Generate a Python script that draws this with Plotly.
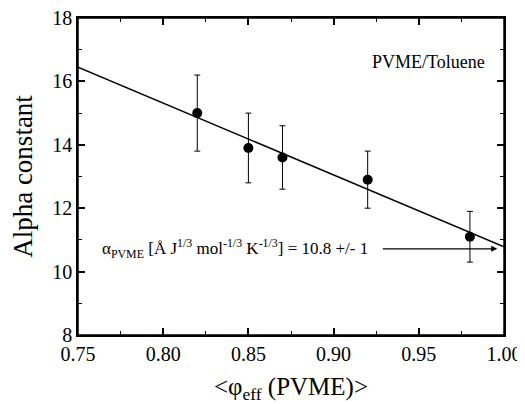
import plotly.graph_objects as go

phi_eff = [0.82, 0.85, 0.87, 0.92, 0.98]
alpha = [15.0, 13.9, 13.6, 12.9, 11.1]
err_plus = [1.2, 1.1, 1.0, 0.9, 0.8]
err_minus = [1.2, 1.1, 1.0, 0.9, 0.8]
fit_x = [0.75, 1.00]
fit_y = [16.45, 10.78]

FONT = "Times New Roman, Liberation Serif, serif"

fig = go.Figure()
fig.add_trace(go.Scatter(x=fit_x, y=fit_y, mode="lines",
                         line=dict(color="black", width=1.5), showlegend=False, hoverinfo="skip"))
fig.add_trace(go.Scatter(x=phi_eff, y=alpha, mode="markers",
                         marker=dict(color="black", size=10),
                         error_y=dict(type="data", array=err_plus, arrayminus=err_minus,
                                      color="black", thickness=1, width=3),
                         showlegend=False))

fig.add_annotation(x=0.763, y=10.72, xref="x", yref="y", xanchor="left", yanchor="middle",
                   text="α<sub>PVME</sub> [Å J<sup>1/3</sup> mol<sup>-1/3</sup> K<sup>-1/3</sup>] = 10.8 +/- 1",
                   showarrow=False, font=dict(family=FONT, size=17, color="black"))
fig.add_annotation(x=0.996, y=10.72, ax=0.928, ay=10.72, xref="x", yref="y", axref="x", ayref="y",
                   text="", showarrow=True, arrowhead=2, arrowsize=1, arrowwidth=1.2, arrowcolor="black")
fig.add_annotation(x=0.99, y=16.6, xref="x", yref="y", xanchor="right", yanchor="middle",
                   text="PVME/Toluene", showarrow=False, font=dict(family=FONT, size=18, color="black"))

# plot frame
fig.add_shape(type="rect", xref="x domain", yref="y domain", x0=0, x1=1, y0=0, y1=1,
              line=dict(color="black", width=1.5), layer="above")

axis_common = dict(showgrid=False, zeroline=False, showline=True, linecolor="black", linewidth=1.5,
                   mirror="allticks", ticks="inside", ticklen=7, tickwidth=1.5, tickcolor="black",
                   tickfont=dict(family=FONT, size=20, color="black"), automargin=False,
                   ticklabeloverflow="allow")

fig.update_xaxes(range=[0.75, 1.0], tickvals=[0.75, 0.80, 0.85, 0.90, 0.95, 1.00],
                 ticktext=["0.75", "0.80", "0.85", "0.90", "0.95", "1.00"],
                 minor=dict(dtick=0.025, ticks="inside", ticklen=4, tickcolor="black", tickwidth=1.2),
                 title=dict(text="<φ<sub>eff</sub> (PVME)>", font=dict(family=FONT, size=25, color="black"),
                            standoff=14),
                 **axis_common)
fig.update_yaxes(range=[8, 18], tickvals=[8, 10, 12, 14, 16, 18],
                 minor=dict(dtick=1, ticks="inside", ticklen=4, tickcolor="black", tickwidth=1.2),
                 title=dict(text="Alpha constant", font=dict(family=FONT, size=27, color="black"),
                            standoff=16),
                 **axis_common)

# page body has an 8px default margin, so the figure is a bit smaller than the window
fig.update_layout(width=517, height=396, margin=dict(l=70, r=21, t=10, b=69),
                  font=dict(family=FONT, color="black"),
                  plot_bgcolor="white", paper_bgcolor="white")

fig.write_html("out.html")
